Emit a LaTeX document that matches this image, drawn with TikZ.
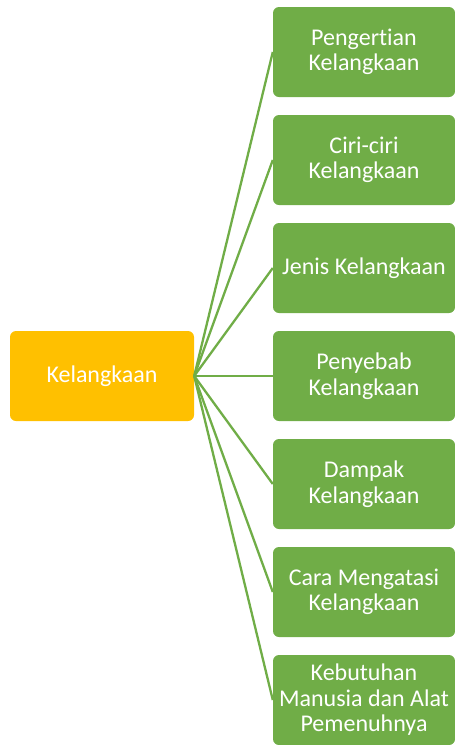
\documentclass[tikz,border=0pt]{standalone}
\usepackage{fontspec}
\setmainfont[Ligatures={NoCommon,NoRare}]{Carlito}
\begin{document}
\begin{tikzpicture}[x=1pt,y=-1pt,
  greenbox/.style={draw=none,fill=grn,rounded corners=6pt,minimum width=182pt,minimum height=90pt,text=white,align=center,font=\fontsize{24}{25.5}\selectfont,inner sep=0pt},
  mainbox/.style={draw=none,fill=org,rounded corners=6pt,minimum width=184pt,minimum height=90pt,text=white,font=\fontsize{24}{25.5}\selectfont,inner sep=0pt},
  link/.style={draw=grn,line width=2.3pt}]
\definecolor{grn}{HTML}{70AD47}
\definecolor{org}{HTML}{FFC000}
\useasboundingbox (0,0) rectangle (455,745);
\node[mainbox] (k) at (102,376) {Kelangkaan};
\node[greenbox] (g1) at (364,52) {Pengertian\\Kelangkaan};
\node[greenbox] (g2) at (364,160) {Ciri-ciri\\Kelangkaan};
\node[greenbox] (g3) at (364,268) {Jenis Kelangkaan};
\node[greenbox] (g4) at (364,376) {Penyebab\\Kelangkaan};
\node[greenbox] (g5) at (364,484) {Dampak\\Kelangkaan};
\node[greenbox] (g6) at (364,592) {Cara Mengatasi\\Kelangkaan};
\node[greenbox] (g7) at (364,700) {Kebutuhan\\Manusia dan Alat\\Pemenuhnya};
\foreach \i in {1,...,7} \draw[link] (k.east) -- (g\i.west);
\end{tikzpicture}
\end{document}
